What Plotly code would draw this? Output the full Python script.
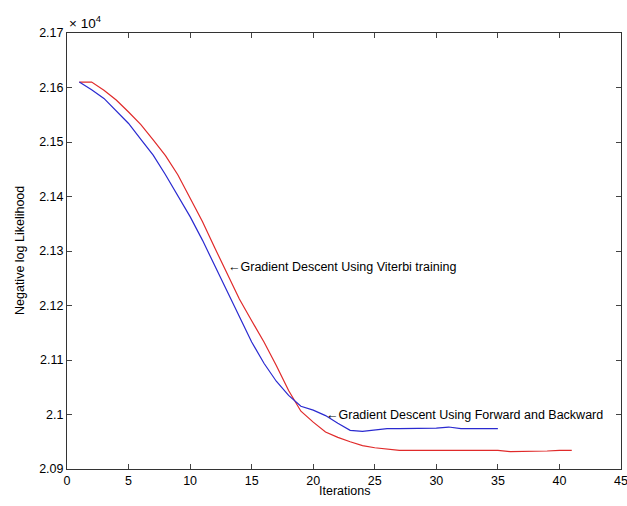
import plotly.graph_objects as go

iters_fb = list(range(1, 36))
nll_fb = [2.1610, 2.1596, 2.1580, 2.1557, 2.1534, 2.1505, 2.1476, 2.1440, 2.1402, 2.1363,
          2.1320, 2.1273, 2.1225, 2.1178, 2.1133, 2.1094, 2.1061, 2.1035, 2.1015, 2.1008,
          2.0998, 2.0984, 2.0971, 2.0969, 2.0972, 2.0974, 2.0974, 2.0974, 2.0974, 2.0975,
          2.0977, 2.0974, 2.0974, 2.0974, 2.0974]

iters_vit = list(range(1, 42))
nll_vit = [2.1610, 2.1610, 2.1595, 2.1577, 2.1555, 2.1532, 2.1504, 2.1475, 2.1440, 2.1398,
           2.1354, 2.1306, 2.1260, 2.1212, 2.1172, 2.1133, 2.1090, 2.1044, 2.1006, 2.0986,
           2.0968, 2.0958, 2.0950, 2.0943, 2.0939, 2.0936, 2.0934, 2.0934, 2.0934, 2.0934,
           2.0934, 2.0934, 2.0934, 2.0934, 2.0934, 2.0932, 2.0932, 2.0932, 2.0933, 2.0934,
           2.0934]

x_ticks = [0, 5, 10, 15, 20, 25, 30, 35, 40, 45]
x_tick_labels = ["0", "5", "10", "15", "20", "25", "30", "35", "40", "45"]
y_ticks = [2.09, 2.10, 2.11, 2.12, 2.13, 2.14, 2.15, 2.16, 2.17]
y_tick_labels = ["2.09", "2.1", "2.11", "2.12", "2.13", "2.14", "2.15", "2.16", "2.17"]

font = dict(family="Liberation Sans, Arial, sans-serif", size=12.5, color="black")

fig = go.Figure()
fig.add_trace(go.Scatter(x=iters_vit, y=nll_vit, mode="lines",
                         line=dict(color="#e02a2a", width=1.2), showlegend=False))
fig.add_trace(go.Scatter(x=iters_fb, y=nll_fb, mode="lines",
                         line=dict(color="#2a2ad0", width=1.2), showlegend=False))

fig.add_annotation(x=12.9, y=2.1271, text="\u2190Gradient Descent Using Viterbi training",
                   showarrow=False, xanchor="left", yanchor="middle", font=font)
fig.add_annotation(x=20.9, y=2.0999, text="\u2190Gradient Descent Using Forward and Backward",
                   showarrow=False, xanchor="left", yanchor="middle", font=font)
fig.add_annotation(x=0, y=1, xref="paper", yref="paper", text="\u00d7 10<sup>4</sup>",
                   showarrow=False, xanchor="left", yanchor="bottom", yshift=0,
                   font=dict(family=font["family"], size=13.5, color="black"))
fig.add_annotation(x=0.5, y=0, xref="paper", yref="paper", text="Iterations",
                   showarrow=False, xanchor="center", yanchor="middle", yshift=-22, font=font)
fig.add_annotation(x=0, y=0.5, xref="paper", yref="paper", text="Negative log Likelihood",
                   showarrow=False, xanchor="center", yanchor="middle", xshift=-47,
                   textangle=-90, font=font)

fig.update_layout(
    width=627, height=506,
    margin=dict(l=67, r=6, t=33, b=37, autoexpand=False),
    paper_bgcolor="white", plot_bgcolor="white",
    font=font,
    xaxis=dict(range=[0, 45], tickvals=x_ticks, ticktext=x_tick_labels,
               ticks="inside", ticklen=5,
               showline=True, linecolor="#333", linewidth=1, mirror="ticks",
               showgrid=False, zeroline=False, automargin=False,
               ticklabeloverflow="allow"),
    yaxis=dict(range=[2.09, 2.17], tickvals=y_ticks, ticktext=y_tick_labels,
               ticks="inside", ticklen=5, showline=True, linecolor="#333", linewidth=1,
               mirror="ticks", showgrid=False, zeroline=False, automargin=False,
               ticklabeloverflow="allow"),
)

# remove the browser's default 8px body margin so the figure fills the window exactly
fig.write_html("out.html", config={"displayModeBar": False},
               post_script="document.body.style.margin='0';document.body.style.overflow='hidden';")
